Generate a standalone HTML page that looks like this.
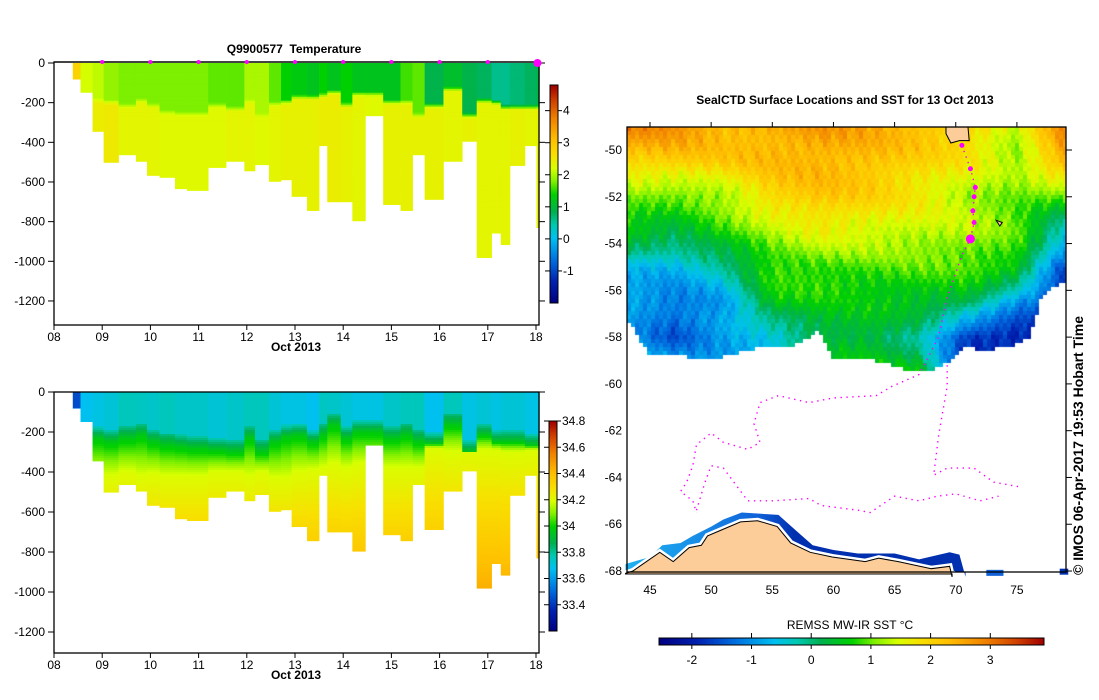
<!DOCTYPE html>
<html><head><meta charset="utf-8">
<style>
html,body{margin:0;padding:0;background:#fff;}
#wrap{position:relative;width:1099px;height:700px;overflow:hidden;font-family:"Liberation Sans",sans-serif;}
#sst{position:absolute;left:627px;top:127px;}
#svg{position:absolute;left:0;top:0;}
text{font-family:"Liberation Sans",sans-serif;fill:#000;}
</style></head>
<body>
<div id="wrap">
<canvas id="sst" width="439" height="445"></canvas>
<svg id="svg" width="1099" height="700" xmlns="http://www.w3.org/2000/svg"></svg>
</div>
<script>
// ---------- section data ----------
const colStart = [8.39,8.55,8.80,9.03,9.34,9.70,9.93,10.19,10.51,10.76,11.20,11.57,11.95,12.17,12.46,12.71,12.93,13.25,13.50,13.67,13.95,14.19,14.46,14.83,15.19,15.44,15.69,16.08,16.47,16.77,17.08,17.27,17.46,17.77,18.01];
const lastEnd = 18.07;
const maxDepth = [81,148,345,501,463,496,567,577,634,643,527,496,544,513,597,589,673,744,417,700,700,796,266,714,744,463,688,496,395,981,858,916,517,417,830];
const tSurf = [2.8,2.2,2.1,1.9,1.8,1.8,1.8,1.8,1.8,1.8,1.7,1.7,2.0,2.0,1.7,1.4,1.3,1.2,1.4,1.2,1.4,1.2,1.2,1.2,1.6,1.7,0.9,1.1,0.9,0.8,0.6,0.6,0.7,0.8,0.9];
const mlDepth = [81,148,177,185,204,177,202,236,244,244,202,219,182,252,194,185,160,160,151,135,200,143,143,185,185,252,202,118,252,177,185,210,210,210,210];
const tDeep = [2.8,2.2,2.45,2.5,2.35,2.35,2.35,2.3,2.3,2.3,2.3,2.35,2.35,2.3,2.35,2.4,2.4,2.4,2.45,2.45,2.4,2.35,2.3,2.4,2.4,2.4,2.4,2.35,2.4,2.35,2.35,2.35,2.4,2.35,2.4];
const sSurf = [33.45,33.68,33.7,33.72,33.76,33.75,33.74,33.76,33.74,33.74,33.72,33.74,33.76,33.76,33.72,33.7,33.7,33.68,33.75,33.74,33.72,33.7,33.7,33.74,33.76,33.76,33.68,33.76,33.7,33.72,33.7,33.72,33.72,33.7,33.7];
const haloDepth = [81,148,173,190,173,157,190,207,215,224,232,241,173,241,190,165,157,190,157,106,173,140,140,173,157,190,199,106,241,157,190,190,190,207,207];
const d342 = [400,400,420,420,400,420,410,420,420,420,400,400,420,400,430,430,400,390,380,360,380,360,360,380,380,380,280,300,280,290,290,300,300,290,290];
const dayTicks = ["08","09","10","11","12","13","14","15","16","17","18"];
const depthTicks = [0,-200,-400,-600,-800,-1000,-1200];
const tempCbTicks = [4,3,2,1,0,-1];
const salCbTicks = [34.8,34.6,34.4,34.2,34,33.8,33.6,33.4];
// ---------- map data ----------
const gridLats = [-49,-50.5,-52,-53.5,-55,-56.5,-58,-59.5];
const gridLons = [43,47,51,55,59,63,67,71,75,79];
const sstGrid = [
 [2.9,2.8,2.4,2.5,2.7,2.5,2.3,2.1,1.3,2.9],
 [2.0,2.1,2.1,2.3,2.4,2.3,2.0,1.7,1.2,2.5],
 [1.0,0.9,1.2,2.0,2.2,2.0,1.7,1.3,1.0,0.9],
 [0.6,0.3,0.8,1.2,1.6,1.5,1.4,1.3,0.9,-0.5],
 [-0.6,-0.7,-0.2,0.8,0.9,0.9,0.9,0.9,0.7,-1.6],
 [-0.9,-1.2,-0.9,0.6,0.6,0.5,0.5,0.3,-1.0,-1.8],
 [-0.8,-1.5,-0.9,-0.6,0.3,0.4,-0.2,-1.8,-1.9,-1.8],
 [-0.6,-0.5,-0.8,-0.8,0.5,0.6,0.6,-2.0,-1.9,-1.8]];
const iceLon = [43,44,45,47.5,49.8,52,54.4,56.5,58.2,58.8,59.9,63.4,66.7,68,69.4,70.8,72.1,74.8,76,77,78,79.2];
const iceLat = [-57.05,-58.0,-58.76,-58.8,-59.0,-58.7,-58.4,-58.4,-58.0,-57.7,-58.85,-59.0,-59.5,-59.4,-59.1,-58.4,-58.6,-58.4,-58.0,-56.4,-55.9,-55.6];
const coastLon = [43.0,43.6,45.8,46.9,48.2,49.2,49.7,50.6,52.4,53.8,55.4,56.5,58.1,59.9,62.6,63.7,65.3,68,69.5,69.7];
const coastLat = [-68.1,-68.0,-67.2,-67.6,-67.0,-66.9,-66.5,-66.3,-65.9,-65.85,-66.1,-66.8,-67.2,-67.4,-67.6,-67.45,-67.6,-67.9,-67.8,-68.25];
const bandLon = [43,45,46,47.5,48.5,50,51,52.5,55.5,57,58.3,60,62,65,67,69.5,70.3,70.8];
const bandLat = [-67.7,-67.4,-66.9,-66.8,-66.5,-66.1,-65.8,-65.5,-65.6,-66.3,-66.9,-67.1,-67.25,-67.25,-67.5,-67.2,-67.3,-68.25];
const trackLon = [70.5,71.2,71.6,71.5,71.4,71.5,71.2,70.5,69.3,68.6,67.0,64.8,63.5,60,58,55.5,54,53.5,54,53,51,50,48.8,48.5,48,47.5,48.5,48.8];
const trackLat = [-49.8,-50.8,-51.6,-52.0,-52.6,-53.1,-53.8,-54.5,-56.3,-58.0,-59.6,-60.1,-60.5,-60.6,-60.8,-60.5,-60.8,-61.7,-62.5,-62.8,-62.5,-62.1,-62.6,-63.5,-64.2,-64.6,-65.0,-65.5];
const track2Lon = [48.8,49.5,50,51,52,53,55,58,59,62,63,65,67,68.5,70,72,73.5];
const track2Lat = [-65.4,-64.2,-63.5,-63.6,-64.3,-65,-65.0,-64.9,-65.2,-65.4,-65.5,-64.8,-65,-64.8,-64.7,-65,-64.8];
const track3Lon = [69.3,69.3,68.6,68.2,69.3,71.5,73.1,75.2];
const track3Lat = [-59.2,-60.1,-62.2,-63.9,-63.6,-63.6,-64.2,-64.4];
const bigDotLon = [70.5,71.2,71.6,71.5,71.4,71.5];
const bigDotLat = [-49.8,-50.8,-51.6,-52.0,-52.6,-53.1];
const lonTicks = [45,50,55,60,65,70,75];
const latTicks = [-50,-52,-54,-56,-58,-60,-62,-64,-66,-68];
const sstCbTicks = [-2,-1,0,1,2,3];

// ---------- helpers ----------
const NS="http://www.w3.org/2000/svg";
const svg=document.getElementById('svg');
function mk(tag,attrs,parent){const e=document.createElementNS(NS,tag);for(const k in attrs)e.setAttribute(k,attrs[k]);(parent||svg).appendChild(e);return e;}
function txt(s,x,y,anchor,size,bold,parent){const t=mk('text',{x:x,y:y,'text-anchor':anchor||'middle','font-size':size||12,'font-weight':bold?'bold':'normal'},parent);t.textContent=s;return t;}
const stops=[[0,[0,0,128]],[0.1,[0,32,176]],[0.2,[0,112,224]],[0.3,[0,192,240]],[0.36,[0,200,176]],[0.42,[0,176,80]],[0.5,[0,208,0]],[0.56,[128,240,0]],[0.62,[216,255,0]],[0.68,[248,224,0]],[0.75,[255,192,0]],[0.85,[240,128,0]],[0.93,[208,64,0]],[1,[160,0,0]]];
function cmapRGB(f){f=Math.max(0,Math.min(1,f));for(let i=1;i<stops.length;i++){if(f<=stops[i][0]){const a=stops[i-1],b=stops[i];const t=(f-a[0])/(b[0]-a[0]);return [0,1,2].map(k=>Math.round(a[1][k]+(b[1][k]-a[1][k])*t));}}return stops[stops.length-1][1];}
function cmap(f){const c=cmapRGB(f);return `rgb(${c[0]},${c[1]},${c[2]})`;}
function lerp(a,b,t){return a+(b-a)*Math.max(0,Math.min(1,t));}

// ---------- axes ----------
const xDay=d=>54+(d-8)*48.2;
const yTop=m=>63+m*0.1983;
const ySal=m=>392+m*0.2;
function tempAt(i,d){const ml=mlDepth[i];if(d<ml)return tSurf[i];return lerp(tSurf[i],tDeep[i],(d-ml)/25);}
function salAt(i,d){const h=haloDepth[i];if(d<h)return sSurf[i];if(d<h+60)return lerp(sSurf[i]+0.05,33.97,(d-h)/60);
 if(d<d342[i])return lerp(33.97,34.2,(d-h-60)/(d342[i]-h-60));return lerp(34.2,34.45,(d-d342[i])/(1000-d342[i]));}

function section(yf,valFn,vmin,vmax,name,axTop,axBot){
 const g=mk('g',{});
 
 
 for(let i=0;i<colStart.length;i++){
  const x0=xDay(colStart[i]),x1=xDay(i+1<colStart.length?colStart[i+1]:lastEnd);
  for(let d=0;d<maxDepth[i];d+=10){
   const d2=Math.min(d+10,maxDepth[i]);
   const r=mk('rect',{x:x0.toFixed(2),y:yf(d).toFixed(2),width:(x1-x0+0.3).toFixed(2),height:(yf(d2)-yf(d)+0.4).toFixed(2),fill:cmap((valFn(i,d+5)-vmin)/(vmax-vmin))},g);
   
   
  }
 }
 const ax=mk('g',{});
 
 
 mk('rect',{x:54,y:axTop,width:485,height:axBot-axTop,fill:'none',stroke:'#000','stroke-width':1.3},ax);
 depthTicks.forEach(v=>{const y=yf(-v);mk('line',{x1:48,x2:54,y1:y,y2:y,stroke:'#000'},ax);mk('line',{x1:539,x2:545,y1:y,y2:y,stroke:'#000'},ax);
  const t=txt(String(v),45,y+4,'end',12,false,ax);});
 dayTicks.forEach((s,k)=>{const x=xDay(8+k);mk('line',{x1:x,x2:x,y1:axBot,y2:axBot+5,stroke:'#000'},ax);const t=txt(s,x,axBot+16,'middle',12,false,ax);});
 const xt=txt('Oct 2013',296,axBot+26,'middle',12,true,ax);
}
section(yTop,tempAt,-2,4.8,'temperature-section',62,325);
section(ySal,salAt,33.2,34.8,'salinity-section',392,653);
mk('line',{x1:54,x2:539,y1:62,y2:62,stroke:'#000','stroke-width':1.3});
for(let k=1;k<=9;k++){const c=mk('circle',{cx:xDay(8+k),cy:62,r:2,fill:'#ff00ff'});}
{const c=mk('circle',{cx:xDay(18.03),cy:63,r:4,fill:'#ff00ff'});}
{const t=txt('Q9900577  Temperature',294,53,'middle',12,true);t.style.whiteSpace='pre';}

function vbar(x,y0,y1,vmin,vmax,ticks,yOf,name){
 const g=mk('g',{});
 const n=120;for(let k=0;k<n;k++){const ya=y1-(k+1)*(y1-y0)/n;mk('rect',{x:x,y:ya,width:8,height:(y1-y0)/n+0.5,fill:cmap((k+0.5)/n)},g);}
 mk('rect',{x:x,y:y0,width:8,height:y1-y0,fill:'none',stroke:'#000'},g);
 ticks.forEach(v=>{const y=yOf(v);mk('line',{x1:x-5,x2:x,y1:y,y2:y,stroke:'#000'},g);mk('line',{x1:x+8,x2:x+12,y1:y,y2:y,stroke:'#000'},g);txt(String(v),x+13,y+4,'start',12,false,g);});
}
vbar(550,85,303,-2,4.8,tempCbTicks,v=>303-(v+2)/6.8*218,'temperature-colorbar');
vbar(549,421,631,33.2,34.8,salCbTicks,v=>631-(v-33.2)/1.6*210,'salinity-colorbar');

// ---------- map ----------
const mx=lon=>650+(lon-45)*12.23;
const my=lat=>150+(-50-lat)*23.39;
function interp1(xs,ys,x){if(x<=xs[0])return ys[0];for(let i=1;i<xs.length;i++){if(x<=xs[i])return lerp(ys[i-1],ys[i],(x-xs[i-1])/(xs[i]-xs[i-1]));}return ys[ys.length-1];}
function sstAt(lat,lon){
 let li=0;while(li<gridLats.length-2&&lat<gridLats[li+1])li++;
 let lj=0;while(lj<gridLons.length-2&&lon>gridLons[lj+1])lj++;
 const ty=Math.max(0,Math.min(1,(gridLats[li]-lat)/(gridLats[li]-gridLats[li+1])));
 const tx=Math.max(0,Math.min(1,(lon-gridLons[lj])/(gridLons[lj+1]-gridLons[lj])));
 const a=lerp(sstGrid[li][lj],sstGrid[li][lj+1],tx),b=lerp(sstGrid[li+1][lj],sstGrid[li+1][lj+1],tx);
 return lerp(a,b,ty);
}
(function(){
 const cv=document.getElementById('sst');const ctx=cv.getContext('2d');
 const B=4;
 for(let py=0;py<445;py+=B){for(let px=0;px<439;px+=B){
  const X=627+px+2,Y=127+py+2;
  const lon=45+(X-650)/12.23, lat=-50-(Y-150)/23.39;
  if(lat<interp1(iceLon,iceLat,lon))continue;
  const tex=0.2*Math.sin(X*0.35+2*Math.sin(Y*0.06))*(0.6+0.4*Math.sin(Y*0.21+X*0.05))+0.12*Math.sin(X*0.8+Y*0.4)+0.1*Math.sin(Y*0.11-X*0.03);
  const v=sstAt(lat,lon)+tex;
  ctx.fillStyle=cmap((v+2.55)/6.45);ctx.fillRect(px,py,B,B);
 }}
})();
const mg=mk('g',{});
{let pts=bandLon.map((l,k)=>mx(l)+','+my(bandLat[k]));pts.push(mx(70.8)+','+572,mx(43)+','+572);
 const defs=mk('defs',{});const lg=mk('linearGradient',{id:'bandg',x1:627,x2:1066,y1:0,y2:0,gradientUnits:'userSpaceOnUse'},defs);
 [[0,'#20b0f0'],[0.15,'#1890e8'],[0.3,'#1060d8'],[0.38,'#0030b0'],[1,'#0030b0']].forEach(s=>mk('stop',{offset:s[0],'stop-color':s[1]},lg));
 const p=mk('polygon',{points:pts.join(' '),fill:'url(#bandg)'},mg);
 const p2=mk('rect',{x:mx(72.5),y:my(-67.95),width:mx(73.9)-mx(72.5),height:6,fill:'#1060d8'},mg);
 const p3=mk('rect',{x:mx(78.5),y:my(-67.9),width:mx(79.2)-mx(78.5),height:6,fill:'#0030b0'},mg);
}
{let pts=coastLon.map((l,k)=>mx(l)+','+my(coastLat[k]));pts.push(mx(69.7)+','+574,mx(43)+','+574);
 mk('polygon',{points:pts.join(' '),fill:'none',stroke:'#fff','stroke-width':6},mg);
 const p=mk('polygon',{points:pts.join(' '),fill:'#fccc99',stroke:'#000','stroke-width':1},mg);}
{const k=mk('path',{d:`M${mx(69.2)},127 L${mx(71.0)},127 L${mx(71.1)},${my(-49.6)} L${mx(70.3)},${my(-49.6)} L${mx(69.6)},${my(-49.7)} L${mx(69.2)},${my(-49.3)} Z`,fill:'#fccc99',stroke:'#000','stroke-width':1},mg);
 const h=mk('path',{d:`M${mx(73.3)},${my(-53.0)} L${mx(73.8)},${my(-53.1)} L${mx(73.6)},${my(-53.25)} Z`,fill:'#fccc99',stroke:'#000','stroke-width':1},mg);}
[[trackLon,trackLat],[track2Lon,track2Lat],[track3Lon,track3Lat]].forEach(tr=>{
 const p=mk('polyline',{points:tr[0].map((l,k)=>mx(l)+','+my(tr[1][k])).join(' '),fill:'none',stroke:'#ff00ff','stroke-width':1.4,'stroke-dasharray':'1.4 4.5'},mg);
 });
bigDotLon.forEach((l,k)=>{const c=mk('circle',{cx:mx(l),cy:my(bigDotLat[k]),r:2.5,fill:'#ff00ff'},mg);});
{const c=mk('circle',{cx:mx(71.2),cy:my(-53.8),r:4.5,fill:'#ff00ff'},mg);}
{const g=mk('g',{});
 mk('rect',{x:627,y:127,width:439,height:445,fill:'none',stroke:'#000','stroke-width':1.3},g);
 lonTicks.forEach(l=>{const x=mx(l);mk('line',{x1:x,x2:x,y1:122,y2:127,stroke:'#000'},g);txt(String(l),x,594,'middle',12,false,g);});
 latTicks.forEach(l=>{const y=my(l);mk('line',{x1:1066,x2:1072,y1:y,y2:y,stroke:'#000'},g);txt(String(l),622,y+4,'end',12,false,g);});
}
{const t=txt('SealCTD Surface Locations and SST for 13 Oct 2013',845,104,'middle',12,true);}
{const g=mk('g',{});
 const x0=659,x1=1044,n=150;
 for(let k=0;k<n;k++)mk('rect',{x:x0+k*(x1-x0)/n,y:638,width:(x1-x0)/n+0.5,height:7,fill:cmap((k+0.5)/n)},g);
 mk('rect',{x:x0,y:638,width:x1-x0,height:7,fill:'none',stroke:'#000'},g);
 sstCbTicks.forEach(v=>{const x=x0+(v+2.55)/6.45*(x1-x0);mk('line',{x1:x,x2:x,y1:633,y2:638,stroke:'#000'},g);mk('line',{x1:x,x2:x,y1:645,y2:649,stroke:'#000'},g);txt(String(v),x,664,'middle',12,false,g);});
 txt('REMSS MW-IR SST °C',850,629,'middle',12,false,g);
}
{const t=mk('text',{x:0,y:0,transform:'translate(1083,575) rotate(-90)','text-anchor':'start','font-size':14,'font-weight':'bold'});t.textContent='© IMOS 06-Apr-2017 19:53 Hobart Time';}
</script>
</body></html>
